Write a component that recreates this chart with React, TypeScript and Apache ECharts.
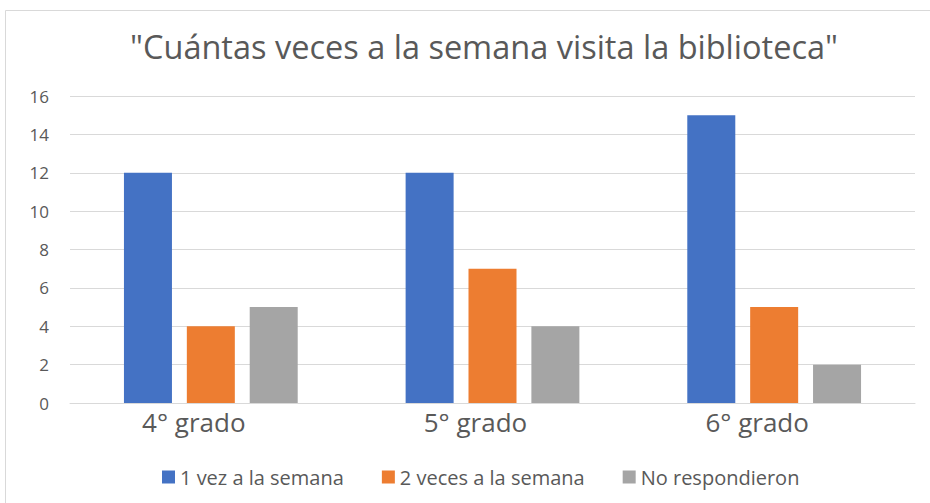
import React, { useEffect, useRef } from "react";
import * as echarts from "echarts";

const categories = ["4° grado", "5° grado", "6° grado"];
const seriesNames = ["1 vez a la semana", "2 veces a la semana", "No respondieron"];
const unaVez = [12, 12, 15];
const dosVeces = [4, 7, 5];
const noResp = [5, 4, 2];
const colors = ["#4472C4", "#ED7D31", "#A5A5A5"];

const FONT = "'Open Sans', sans-serif";

export default function App() {
  const ref = useRef<HTMLDivElement>(null);
  useEffect(() => {
    document.body.style.margin = "0";
    const chart = echarts.init(ref.current!, null, { renderer: "svg" });
    const values = [unaVez, dosVeces, noResp];
    chart.setOption({
      animation: false,
      backgroundColor: "#ffffff",
      title: {
        text: "\"Cuántas veces a la semana visita la biblioteca\"",
        left: 479,
        top: 25,
        textAlign: "center",
        textStyle: { fontFamily: FONT, fontSize: 32.5, fontWeight: "normal", color: "#595959" },
      },
      graphic: [
        {
          type: "rect",
          shape: { x: 5.5, y: 10.5, width: 960, height: 520 },
          style: { fill: "none", stroke: "#D9D9D9", lineWidth: 1 },
          silent: true,
        },
      ],
      legend: {
        data: seriesNames,
        top: 462,
        left: 157,
        itemWidth: 13,
        itemHeight: 13,
        itemGap: 38,
        icon: "rect",
        textStyle: { fontFamily: FONT, fontSize: 20, color: "#595959" },
      },
      grid: { left: 70, right: 15, top: 96, bottom: 100 },
      xAxis: {
        type: "category",
        data: categories,
        axisTick: { show: false },
        axisLine: { lineStyle: { color: "#D9D9D9" } },
        axisLabel: {
          fontFamily: FONT,
          fontSize: 26,
          color: "#595959",
          margin: 6,
          padding: [0, 34, 0, 0],
        },
      },
      yAxis: {
        type: "value",
        min: 0,
        max: 16,
        interval: 2,
        axisLine: { show: false },
        axisTick: { show: false },
        splitLine: { lineStyle: { color: "#D9D9D9" } },
        axisLabel: { fontFamily: FONT, fontSize: 17, color: "#595959", margin: 21 },
      },
      series: seriesNames.map((name, i) => ({
        name,
        type: "bar",
        data: values[i],
        barWidth: 48,
        barGap: "31%",
        itemStyle: { color: colors[i] },
      })),
    });
    return () => chart.dispose();
  }, []);
  return <div ref={ref} style={{ width: 930, height: 503 }} />;
}
